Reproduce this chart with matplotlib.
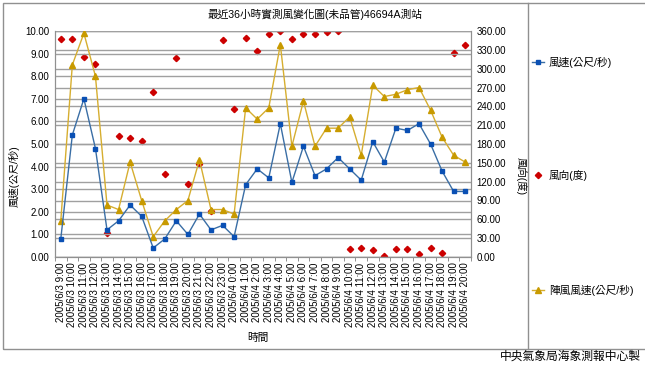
import matplotlib
matplotlib.use("Agg")
import matplotlib.pyplot as plt
import numpy as np

plt.rcParams['font.family'] = ['Liberation Sans', 'Noto Sans CJK TC', 'DejaVu Sans']

times = ["2005/6/3 %d:00" % h for h in range(9, 24)] + ["2005/6/4 %d:00" % h for h in range(0, 21)]

wind_speed = [0.8, 5.4, 7.0, 4.8, 1.2, 1.6, 2.3, 1.8, 0.4, 0.8, 1.6, 1.0, 1.9, 1.2, 1.4, 0.9,
              3.2, 3.9, 3.5, 5.9, 3.3, 4.9, 3.6, 3.9, 4.4, 3.9, 3.4, 5.1, 4.2, 5.7, 5.6, 5.9,
              5.0, 3.8, 2.9, 2.9]
gust_speed = [1.6, 8.5, 9.9, 8.0, 2.3, 2.1, 4.2, 2.5, 0.9, 1.6, 2.1, 2.5, 4.3, 2.1, 2.1, 1.9,
              6.6, 6.1, 6.6, 9.4, 4.9, 6.9, 4.9, 5.7, 5.7, 6.2, 4.5, 7.6, 7.1, 7.2, 7.4, 7.5,
              6.5, 5.3, 4.5, 4.2]
wind_dir = [347, 348, 319, 307, 39, 193, 189, 185, 263, 133, 317, 117, 148, 74, 346, 236,
            349, 328, 355, 360, 347, 355, 355, 359, 360, 12, 15, 11, 1, 12, 12, 4,
            15, 7, 325, 338]

title = "最近36小時實測風變化圖(未品管)46694A測站"
left_label = "風速(公尺/秒)"
right_label = "風向(度)"
x_label = "時間"
footer = "中央氣象局海象測報中心製"
legend_labels = ["風速(公尺/秒)", "風向(度)", "陣風風速(公尺/秒)"]

fig = plt.figure(figsize=(6.45, 3.8), dpi=100)
# outer border
fig.patches.append(plt.Rectangle((3/645, 1-349/380), (660-3)/645, (349-3)/380, transform=fig.transFigure,
                                 fill=False, edgecolor='#909090', lw=1.0))
fig.lines.append(plt.Line2D([528/645, 528/645], [1-349/380, 1-3/380], transform=fig.transFigure,
                            color='#909090', lw=1.0))

ax = fig.add_axes([55/645, 1-257/380, (471-55)/645, (257-31)/380])
ax2 = ax.twinx()
x = np.arange(len(times))

gl = '#a0a0a0'
for v in np.arange(0, 10.01, 1):
    ax.axhline(v, color=gl, lw=1.0, zorder=0)
for v in np.arange(0, 361, 30):
    ax2.axhline(v, color=gl, lw=1.0, zorder=0)

l1, = ax.plot(x, wind_speed, color='#3a6ea5', lw=1.0, marker='s', ms=3.5,
              mfc='#0a50b4', mec='#0a50b4', zorder=4)
l3, = ax.plot(x, gust_speed, color='#d6ae30', lw=1.0, marker='^', ms=5,
              mfc='#c89a00', mec='#c89a00', zorder=3)
l2, = ax2.plot(x, wind_dir, ls='none', marker='D', ms=3.2, mfc='#cc0000', mec='#cc0000', zorder=5)

ax.set_xlim(-0.5, len(times) - 0.5)
ax.set_ylim(0, 10)
ax2.set_ylim(0, 360)
ax.set_yticks(np.arange(0, 10.01, 1))
ax.set_yticklabels(["%.2f" % v for v in np.arange(0, 10.01, 1)], fontsize=7)
ax2.set_yticks(np.arange(0, 361, 30))
ax2.set_yticklabels(["%.2f" % v for v in np.arange(0, 361, 30)], fontsize=7)
ax.set_xticks(x)
ax.set_xticklabels(times, rotation=90, fontsize=7)
ax.set_xticks(np.arange(-0.5, len(times), 1), minor=True)
ax.tick_params(axis='x', which='major', length=0, pad=4)
ax.tick_params(axis='x', which='minor', length=3, color='#808080', direction='out')
ax.tick_params(axis='y', length=0, pad=4)
ax2.tick_params(axis='y', length=0, pad=4)

for a in (ax, ax2):
    a.spines['top'].set_visible(False)
    for s in ('left', 'right', 'bottom'):
        a.spines[s].set_color('#909090')
ax.set_zorder(ax2.get_zorder() + 1)
ax.patch.set_visible(False)

fig.text(315/645, 1-14/380, title, ha='center', va='center', fontsize=7.7)
fig.text(14/645, 1-176/380, left_label, rotation=90, ha='center', va='center', fontsize=7.5)
fig.text(521/645, 1-176/380, right_label, rotation=-90, ha='center', va='center', fontsize=7.5)
fig.text(258/645, 1-338/380, x_label, ha='center', va='center', fontsize=7.7)
fig.text(641/645, 1-357/380, footer, ha='right', va='center', fontsize=8.5)

# legend entries
ly = [62, 175, 290]
handles = [l1, l2, l3]
for y, h, lab in zip(ly, handles, legend_labels):
    yf = 1 - y/380
    if h is not l2:
        fig.lines.append(plt.Line2D([532/645, 544/645], [yf, yf], transform=fig.transFigure,
                                    color=h.get_color(), lw=1.0))
    fig.lines.append(plt.Line2D([538/645], [yf], transform=fig.transFigure, ls='none',
                                marker=h.get_marker(), ms=h.get_markersize(),
                                mfc=h.get_markerfacecolor(), mec=h.get_markeredgecolor()))
    fig.text(549/645, yf, lab, ha='left', va='center', fontsize=7.7)

fig.savefig("out.png", dpi=100)
